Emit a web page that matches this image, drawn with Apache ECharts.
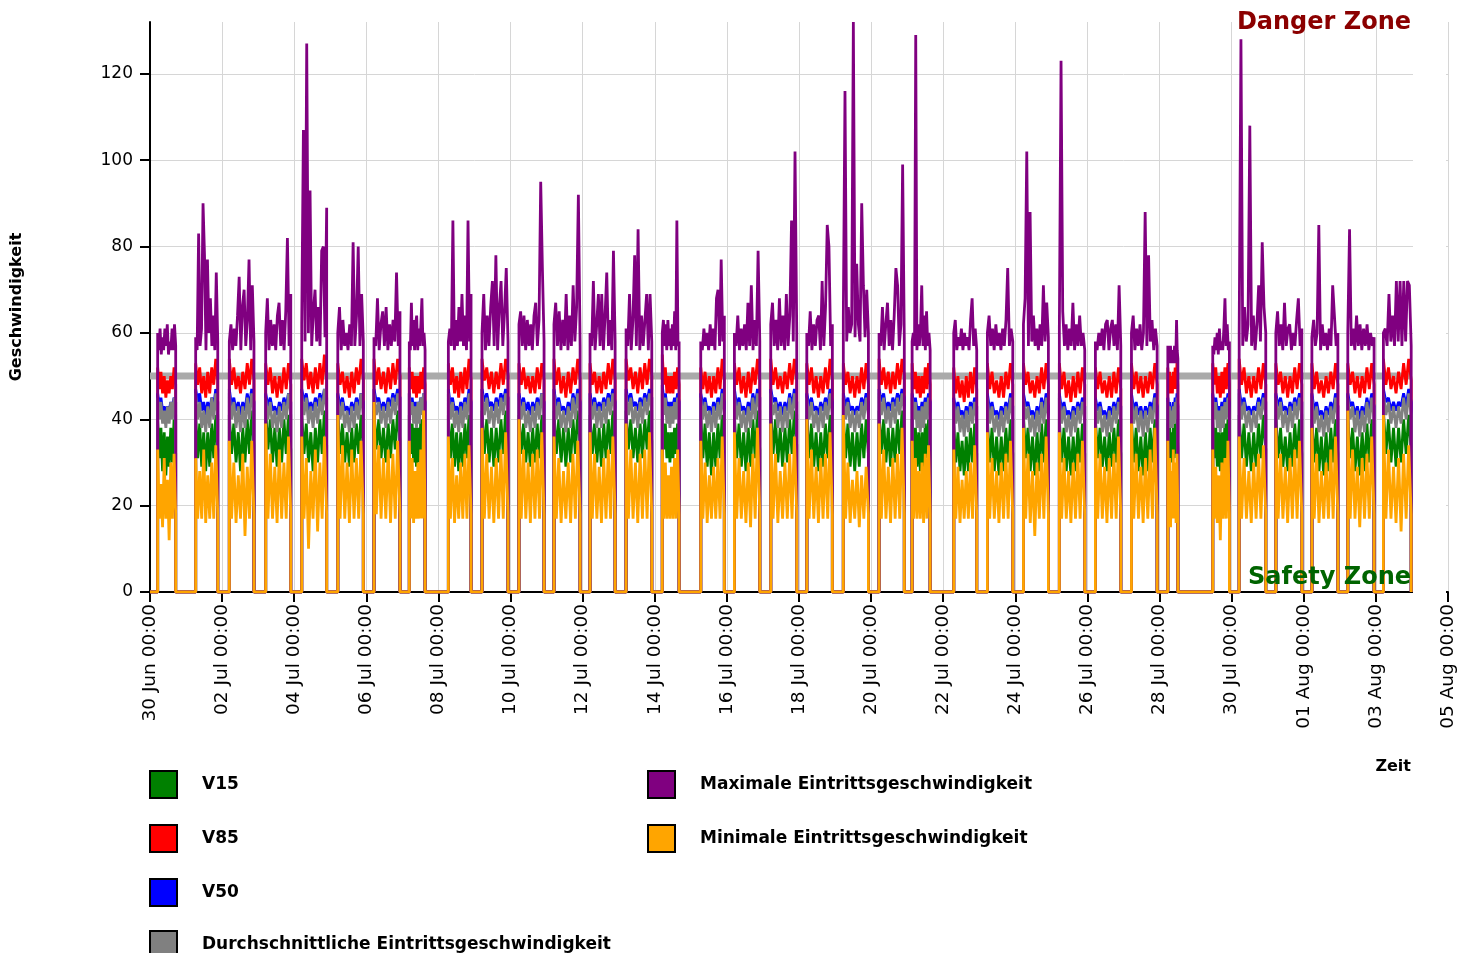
<!DOCTYPE html>
<html>
<head>
<meta charset="utf-8">
<script src="https://cdn.jsdelivr.net/npm/echarts@6/dist/echarts.min.js"></script>
<style>
html, body { margin: 0; padding: 0; background: #fff; }
#chart { width: 1473px; height: 953px; }
</style>
</head>
<body>
<div id="chart"></div>
<script>
// hours since 30 Jun 00:00 where each daily measuring block starts / ends
var blockStartH = [5.1, 30.4, 52.8, 77.0, 101.0, 125.0, 149.1, 172.6, 198.6, 221.0, 245.6, 268.9, 292.9, 316.9, 341.0, 366.6, 389.0, 413.2, 437.2, 461.5, 485.3, 507.3, 535.0, 557.4, 581.4, 605.3, 629.3, 653.3, 677.5, 707.4, 725.0, 749.4, 773.4, 797.3, 821.0];
var blockEndH = [17.1, 45.1, 69.2, 93.7, 117.6, 142.0, 166.4, 183.1, 213.7, 238.3, 262.3, 286.3, 309.6, 334.0, 352.2, 382.3, 405.9, 430.5, 454.2, 478.2, 502.1, 519.3, 550.3, 574.3, 598.0, 622.2, 646.2, 670.4, 684.2, 718.5, 742.7, 766.7, 790.7, 814.8, 839.5];

// readings per block (km/h), evenly spread over the block
var v15 = [
  [40,31,38,28,37,27,36,29,38,30,40,32], [41,31,39,29,37,28,37,29,39,31,41,33], [41,32,39,30,37,28,38,30,40,32,42,34],
  [42,33,40,30,38,29,38,30,40,32,41,33], [41,32,39,30,37,28,38,30,40,32,42,34], [41,32,39,30,37,29,38,30,39,32,41,33],
  [42,33,40,31,38,30,39,31,40,33,42,35], [41,32,39,30,38,29,38,30,40,32,41,33], [41,31,39,29,37,28,37,29,39,31,41,33],
  [42,32,40,30,38,29,38,30,40,32,42,34], [41,32,39,30,37,29,38,30,39,31,41,33], [42,32,40,30,38,29,38,30,40,32,42,34],
  [41,32,39,30,38,29,39,31,40,32,42,34], [42,33,40,31,38,30,39,31,40,33,42,35], [40,33,39,31,37,30,37,31,38,32,39,33],
  [41,31,39,29,37,27,37,29,39,31,41,33], [41,31,39,29,37,28,38,29,40,31,42,33], [42,32,40,30,38,29,38,30,40,32,42,34],
  [41,31,39,29,37,28,37,29,39,31,41,33], [41,31,39,29,37,28,37,29,39,31,40,32], [42,32,40,30,38,29,38,30,40,32,42,34],
  [40,31,38,29,37,28,37,29,39,31,40,32], [39,30,37,28,35,27,36,28,38,30,39,32], [40,30,38,28,36,27,36,28,38,30,40,32],
  [41,31,38,28,36,27,37,28,39,30,40,32], [40,30,38,28,36,27,36,28,38,30,39,32], [40,31,38,29,36,28,37,29,38,30,40,32],
  [40,30,38,28,36,27,37,28,38,30,40,32], [39,32,38,31,37,30,38,31,39,32,40,33], [40,31,38,29,37,28,37,29,39,31,40,32],
  [41,31,39,29,37,28,37,29,39,31,41,33], [41,31,38,29,36,28,37,29,39,31,40,32], [40,30,38,28,36,27,37,28,38,30,40,32],
  [40,31,38,28,36,27,37,28,39,30,40,32], [42,32,40,30,38,29,38,30,40,32,41,33]
];
var v85 = [
  [52,47,51,46,50,45,49,46,50,47,52,48], [53,48,52,46,50,45,51,46,52,48,54,49], [54,48,52,47,50,46,51,47,53,48,54,49],
  [53,48,52,46,50,45,50,46,52,47,53,48], [54,49,53,47,51,46,52,47,53,48,55,49], [53,48,51,46,50,45,51,46,52,48,54,49],
  [54,48,52,47,51,46,52,47,53,48,54,50], [52,47,51,46,50,45,50,46,51,47,52,48], [53,48,52,46,50,45,51,46,52,47,54,49],
  [54,49,52,47,51,46,51,47,53,48,54,50], [53,48,52,47,50,46,50,46,52,47,53,49], [54,48,52,46,50,45,51,46,52,48,54,49],
  [53,48,51,46,50,46,51,47,53,48,54,49], [54,49,52,47,51,46,52,47,53,48,54,50], [55,48,52,46,50,46,50,46,51,47,52,48],
  [52,47,51,46,50,45,50,46,52,47,54,49], [53,48,52,46,50,45,51,46,52,48,54,49], [54,48,52,47,50,46,51,47,53,48,54,49],
  [53,48,52,46,50,45,50,46,52,47,54,49], [53,48,51,46,50,45,50,46,52,47,53,48], [54,48,52,47,51,46,51,47,53,48,54,50],
  [53,47,51,46,50,45,50,46,52,47,53,48], [52,46,50,45,49,44,50,45,51,46,52,47], [53,47,51,46,49,45,50,45,51,47,53,48],
  [53,48,51,46,49,45,50,46,52,47,53,48], [53,47,51,45,49,44,50,45,51,46,52,48], [52,47,51,46,49,45,50,45,51,46,52,47],
  [53,47,51,46,50,45,50,46,51,47,53,48], [52,47,51,46,50,46,51,47,52,47,53,48], [53,48,52,46,50,45,51,46,52,47,53,48],
  [54,48,52,46,50,45,50,46,52,47,53,48], [53,48,51,46,50,45,50,46,52,47,53,48], [53,47,51,46,49,45,50,46,51,47,53,48],
  [53,48,51,46,50,45,50,46,52,47,53,48], [54,48,52,47,50,46,51,47,53,48,54,49]
];
var v50 = [
  [46,43,45,42,43,41,43,42,44,43,45,44], [47,44,46,42,44,41,44,42,45,43,47,44], [47,43,45,42,44,41,44,42,46,43,47,44],
  [46,43,45,42,43,41,44,42,45,43,46,44], [47,44,46,42,44,42,45,43,46,44,47,45], [46,43,45,42,43,41,44,42,45,43,46,44],
  [47,44,45,42,44,42,45,43,46,44,47,45], [46,43,45,42,44,42,44,43,45,43,46,44], [47,43,45,42,43,41,44,42,45,43,47,44],
  [47,44,46,43,44,42,45,43,46,44,47,45], [46,43,45,42,44,41,44,42,45,43,46,44], [47,43,45,42,43,41,44,42,46,43,47,44],
  [46,43,45,42,44,42,45,43,46,44,47,44], [47,44,46,43,44,42,45,43,46,44,47,45], [48,44,46,43,44,42,44,43,45,43,46,44],
  [46,43,45,42,43,41,44,42,45,43,47,44], [47,43,45,42,43,41,44,42,46,43,47,45], [47,44,45,42,44,41,44,42,46,43,47,44],
  [46,43,45,42,43,41,44,42,45,43,47,44], [46,43,45,42,43,41,43,42,45,43,46,44], [47,44,46,42,44,42,45,43,46,44,47,45],
  [46,43,45,42,43,41,44,42,45,43,46,44], [45,42,44,41,42,40,43,41,44,42,45,43], [46,42,44,41,42,40,43,41,44,42,46,43],
  [46,43,44,41,42,40,43,41,45,42,46,43], [46,42,44,41,42,40,43,41,44,42,45,43], [45,42,44,41,42,40,43,41,44,42,45,43],
  [46,42,44,41,43,40,43,41,44,42,46,43], [45,42,44,41,43,41,44,42,45,42,46,43], [46,43,45,42,43,41,44,42,45,43,46,44],
  [47,43,45,42,43,41,43,42,45,43,46,44], [46,43,45,42,43,41,44,42,45,43,46,44], [46,42,44,41,42,40,43,41,44,42,46,43],
  [46,43,44,41,43,40,43,41,45,42,46,43], [47,44,45,42,44,42,44,43,46,43,47,44]
];
var vAvg = [
  [45,40,44,39,42,38,43,39,44,40,45,41], [46,40,44,38,42,37,43,38,45,40,46,41], [46,40,44,38,43,37,43,38,45,40,46,42],
  [45,40,44,38,42,37,43,38,44,40,46,41], [46,41,45,39,43,38,44,39,45,41,47,42], [45,40,44,38,42,37,43,38,44,40,46,41],
  [46,41,44,39,43,38,44,39,45,41,46,42], [46,41,44,39,43,38,44,39,45,41,46,42], [46,40,44,38,42,37,43,38,44,40,46,41],
  [46,41,45,39,43,38,44,39,45,41,46,42], [45,40,44,38,42,37,43,38,44,40,46,41], [46,40,44,38,42,37,43,38,45,40,46,41],
  [45,40,44,38,43,38,44,39,45,41,46,42], [46,41,45,39,43,38,44,39,45,41,46,42], [46,41,45,39,43,38,43,39,44,40,45,41],
  [45,40,44,38,42,37,43,38,44,40,46,41], [46,40,44,38,42,37,43,38,45,40,46,42], [46,41,44,38,43,37,43,38,45,40,46,41],
  [45,40,44,38,42,37,43,38,44,40,46,41], [45,40,44,38,42,37,42,38,44,40,45,41], [46,41,45,39,43,38,44,39,45,41,46,42],
  [45,40,44,38,42,37,43,38,44,40,45,41], [44,39,43,37,41,36,42,37,43,39,44,40], [45,39,43,37,41,36,42,37,43,39,45,40],
  [45,40,43,37,41,36,42,37,44,39,45,40], [45,39,43,37,41,36,42,37,43,39,44,40], [44,39,43,37,41,36,42,37,43,39,44,40],
  [45,39,43,37,42,36,42,37,43,39,45,40], [44,40,43,38,42,38,43,39,44,40,45,41], [45,40,44,38,42,37,43,38,44,40,45,41],
  [46,40,44,38,42,37,42,38,44,40,45,41], [45,40,44,38,42,37,43,38,44,40,45,41], [45,39,43,37,41,36,42,37,43,39,45,40],
  [45,40,43,37,42,36,42,37,44,39,45,40], [46,41,44,39,43,38,43,39,45,40,46,41]
];
var vMax = [
  [60,56,61,55,59,56,61,57,62,55,58,56,61,56,62,57], [59,56,83,57,61,90,78,56,77,60,68,57,64,56,74,58],
  [58,62,56,61,57,64,73,56,66,70,57,63,77,56,71,58], [60,68,56,63,57,62,56,64,67,57,63,56,65,82,57,69],
  [62,107,58,127,60,93,57,65,70,58,66,57,79,80,59,89], [60,66,56,63,57,60,56,62,57,81,57,64,80,57,69,58],
  [59,57,68,56,62,65,57,66,56,62,57,63,58,74,57,65], [58,56,67,57,63,56,62,64,56,61,57,62,68,57,60,56],
  [58,61,57,86,56,63,57,66,58,69,57,64,56,86,58,69], [60,69,56,64,57,66,72,57,78,56,66,72,57,65,75,58],
  [62,65,57,64,56,63,57,62,56,64,67,57,63,95,75,58], [62,67,57,65,56,63,57,69,56,64,57,71,58,66,92,57],
  [60,57,72,56,62,69,57,69,56,64,74,57,63,56,79,58], [61,57,69,56,63,78,57,84,56,64,57,63,69,56,69,58],
  [60,63,57,62,56,63,57,61,56,62,57,65,56,86,57,58], [58,56,61,57,60,56,62,57,61,56,68,70,57,77,58,64],
  [60,57,64,56,61,57,62,56,67,57,71,56,63,57,79,58], [62,67,57,63,56,68,57,64,56,69,57,64,86,58,102,60],
  [60,57,65,56,62,57,63,64,56,72,57,66,85,80,57,62], [64,116,58,66,60,62,132,59,76,62,58,90,71,59,70,60],
  [60,57,66,56,62,67,57,63,56,64,75,71,57,62,99,58], [58,60,57,129,56,62,57,61,71,57,64,56,65,57,60,56],
  [60,63,56,59,57,61,56,60,57,59,56,63,68,57,61,56], [60,64,57,61,56,62,57,60,56,61,57,63,75,57,61,58],
  [62,68,102,57,88,58,64,57,61,56,62,57,71,58,67,59], [61,123,65,57,62,56,61,57,67,56,62,57,64,57,60,56],
  [58,56,60,57,61,56,62,63,56,61,63,57,62,56,71,57], [60,64,56,61,57,62,56,60,88,57,78,58,63,56,61,57],
  [57,54,56,53,57,54,55,53,56,54,57,53,55,63,56,54], [57,55,59,56,60,55,61,56,58,56,61,68,57,62,56,58],
  [60,128,57,66,58,62,108,57,64,56,62,71,58,81,66,60], [60,65,57,62,56,67,57,61,62,56,60,57,63,68,57,61],
  [59,63,57,60,85,56,62,57,60,56,61,57,71,64,57,60], [60,84,57,61,56,64,57,62,56,61,57,62,56,60,57,59],
  [60,61,57,69,58,64,57,72,58,72,57,72,58,72,71,57]
];
var vMin = [
  [33,17,25,15,31,17,26,12,30,17,32,18], [31,17,28,17,33,16,27,17,30,17,34,18], [35,17,30,16,27,17,32,13,29,17,35,18],
  [39,17,32,17,29,16,33,17,30,17,36,18], [36,17,31,10,28,17,33,14,30,17,36,18], [41,17,34,17,30,16,33,17,31,17,35,18],
  [44,18,34,17,31,17,33,16,32,17,35,18], [35,17,31,16,28,17,30,17,33,17,42,18], [36,17,31,16,27,17,30,17,32,17,34,18],
  [38,17,32,17,29,16,31,17,33,17,37,18], [40,17,33,17,30,16,32,17,33,17,37,18], [36,17,31,16,28,17,30,16,32,17,35,18],
  [37,17,32,17,29,16,31,17,33,17,36,18], [39,17,33,17,30,16,32,17,33,17,37,18], [33,17,30,17,27,17,29,17,31,17,33,18],
  [35,17,30,16,27,17,29,17,31,17,36,18], [37,17,31,17,28,16,30,15,32,17,38,18], [39,17,32,16,28,17,30,17,32,17,36,18],
  [40,17,33,17,29,16,31,17,32,17,37,18], [41,17,30,16,26,17,28,15,27,17,29,18], [39,17,33,17,29,16,31,17,32,17,38,18],
  [35,17,31,17,28,17,30,16,32,17,34,18], [33,17,29,16,26,17,28,17,30,17,34,18], [37,17,31,17,28,16,30,17,32,17,35,18],
  [38,17,32,16,28,13,30,17,32,17,36,18], [37,17,31,17,28,16,30,17,32,17,35,18], [38,17,32,17,29,16,31,17,32,17,36,18],
  [39,17,32,17,29,16,31,17,33,17,38,18], [35,17,31,15,28,17,33,17,30,16,32,18], [33,17,29,16,27,12,30,17,31,17,35,18],
  [36,17,31,17,28,16,30,17,32,17,34,18], [38,17,32,17,29,16,31,17,33,17,35,18], [38,17,32,16,28,17,30,17,33,17,36,18],
  [42,17,33,17,29,15,31,17,32,17,36,18], [41,17,33,17,29,16,31,14,32,17,34,18]
];

var threshold = 50;
var axisEndH = 864; // 05 Aug 00:00
var yTicks = [0, 20, 40, 60, 80, 100, 120];

var months = ['Jan','Feb','Mar','Apr','May','Jun','Jul','Aug','Sep','Oct','Nov','Dec'];
var t0 = Date.UTC(2020, 5, 30);
function pad(n) { return (n < 10 ? '0' : '') + n; }
function fmtTime(h) {
  var d = new Date(t0 + h * 3600000);
  return pad(d.getUTCDate()) + ' ' + months[d.getUTCMonth()] + ' ' + pad(d.getUTCHours()) + ':' + pad(d.getUTCMinutes());
}

// build a line that sits at 0 between blocks
function buildLine(rows) {
  var pts = [[0, 0]];
  rows.forEach(function (vals, b) {
    var s = blockStartH[b], e = blockEndH[b], n = vals.length;
    pts.push([s, 0]);
    vals.forEach(function (v, k) {
      pts.push([s + (e - s) * k / (n - 1), v]);
    });
    pts.push([e, 0]);
  });
  return pts;
}

function lineSeries(name, color, rows) {
  return {
    name: name,
    type: 'line',
    data: buildLine(rows),
    showSymbol: false,
    symbol: 'none',
    color: color,
    lineStyle: { width: 2.8, color: color },
    itemStyle: { color: color },
    animation: false
  };
}

var font = 'DejaVu Sans';
var dom = document.getElementById('chart');
var myChart = echarts.init(dom);

function legendAt(left, top, names) {
  return {
    orient: 'vertical',
    left: left,
    top: top,
    padding: 0,
    itemWidth: 27,
    itemHeight: 27,
    itemGap: 25,
    icon: 'rect',
    itemStyle: { borderColor: '#000', borderWidth: 2 },
    textStyle: { fontFamily: font, fontWeight: 'bold', fontSize: 17, color: '#000', padding: [0, 0, 0, 20] },
    selectedMode: false,
    data: names
  };
}

var option = {
  backgroundColor: '#fff',
  animation: false,
  grid: { left: 150, right: 25, top: 22, bottom: 361, containLabel: false },
  legend: [
    legendAt(149, 770, ['V15', 'V85', 'V50']),
    legendAt(149, 930, ['Durchschnittliche Eintrittsgeschwindigkeit']),
    legendAt(647, 770, ['Maximale Eintrittsgeschwindigkeit', 'Minimale Eintrittsgeschwindigkeit'])
  ],
  xAxis: {
    type: 'value',
    min: 0,
    max: axisEndH,
    interval: 48,
    axisLine: { lineStyle: { color: '#000', width: 2 } },
    axisTick: { length: 10, lineStyle: { color: '#000', width: 2 } },
    axisLabel: {
      rotate: 90, margin: 12, fontFamily: font, fontSize: 18.5, color: '#000',
      formatter: function (v) { return fmtTime(v); }
    },
    splitLine: { show: true, lineStyle: { color: '#d6d6d6', width: 1 } }
  },
  yAxis: {
    type: 'value',
    min: 0,
    max: 132,
    interval: 20,
    name: 'Geschwindigkeit',
    nameLocation: 'middle',
    nameGap: 125,
    nameRotate: 90,
    nameTextStyle: { fontFamily: font, fontWeight: 'bold', fontSize: 16, color: '#000' },
    axisLine: { show: true, lineStyle: { color: '#000', width: 2 } },
    axisTick: { show: true, length: 10, lineStyle: { color: '#000', width: 2 }, customValues: yTicks },
    axisLabel: { margin: 17, fontFamily: font, fontSize: 17, color: '#000', customValues: yTicks },
    splitLine: { show: true, lineStyle: { color: '#d6d6d6', width: 1 } }
  },
  graphic: [
    { type: 'rect', shape: { x: 1413, y: 18, width: 33, height: 578 }, style: { fill: '#fff' }, z: 50 },
    { type: 'text', x: 1411, y: 23, z: 60, style: { text: 'Danger Zone', fill: '#8b0000', font: 'bold 24px "DejaVu Sans"', textAlign: 'right', textVerticalAlign: 'middle' } },
    { type: 'text', x: 1411, y: 578, z: 60, style: { text: 'Safety Zone', fill: '#006400', font: 'bold 24px "DejaVu Sans"', textAlign: 'right', textVerticalAlign: 'middle' } },
    { type: 'text', x: 1411, y: 767, z: 60, style: { text: 'Zeit', fill: '#000', font: 'bold 16px "DejaVu Sans"', textAlign: 'right', textVerticalAlign: 'middle' } }
  ],
  series: [
    {
      name: 'Grenze',
      type: 'line',
      data: [[0, threshold], [blockEndH[blockEndH.length - 1], threshold]],
      showSymbol: false,
      symbol: 'none',
      silent: true,
      lineStyle: { width: 7, color: '#aaaaaa' },
      z: 1
    },
    lineSeries('V15', '#008000', v15),
    lineSeries('V85', '#ff0000', v85),
    lineSeries('V50', '#0000ff', v50),
    lineSeries('Durchschnittliche Eintrittsgeschwindigkeit', '#808080', vAvg),
    lineSeries('Maximale Eintrittsgeschwindigkeit', '#800080', vMax),
    lineSeries('Minimale Eintrittsgeschwindigkeit', '#ffa500', vMin)
  ]
};

if (option && typeof option === 'object') {
  myChart.setOption(option, true);
}
</script>
</body>
</html>
